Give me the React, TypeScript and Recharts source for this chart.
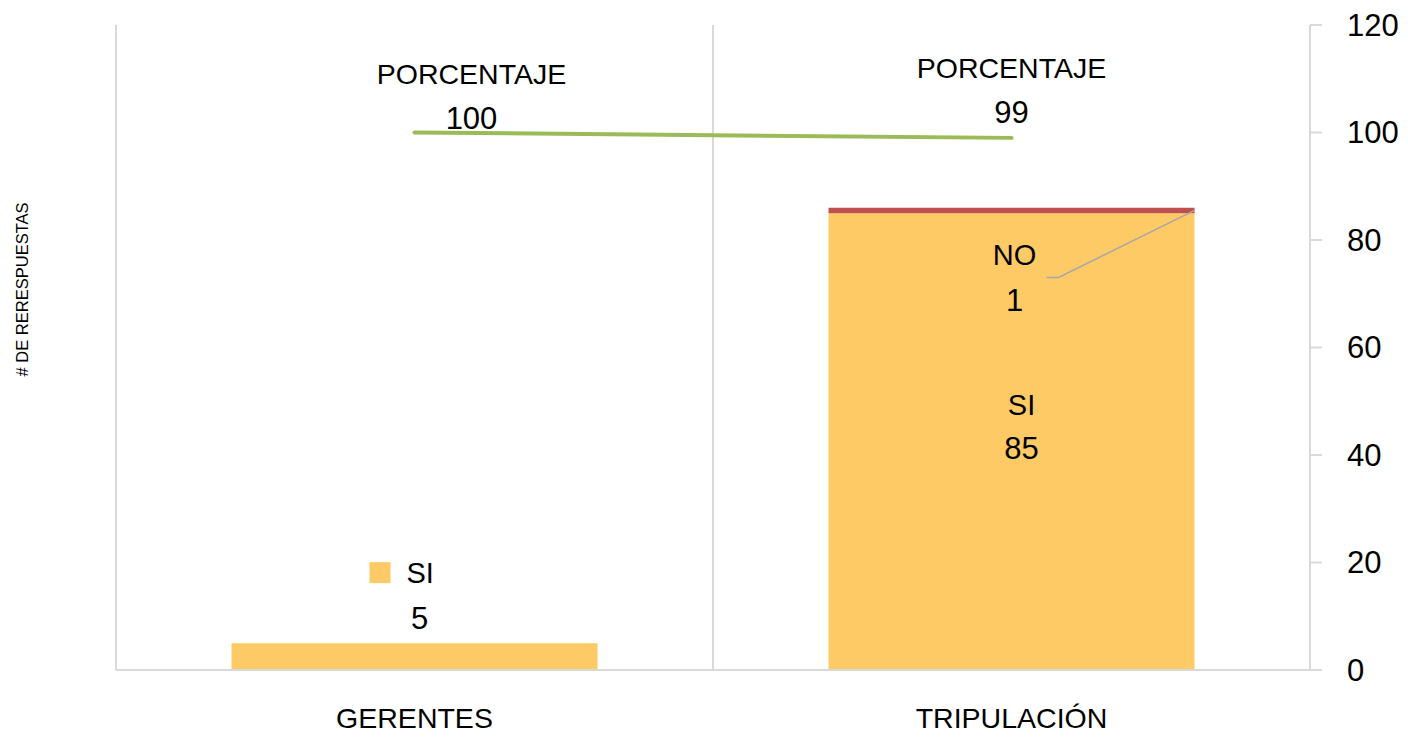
import React from 'react';
import { ComposedChart, Bar, Line, XAxis, YAxis, CartesianGrid, LabelList } from 'recharts';

const categories = ['GERENTES', 'TRIPULACIÓN'];
const siValues = [5, 85];
const noValues = [0, 1];
const pctValues = [100, 99];
const yTicks = [0, 20, 40, 60, 80, 100, 120];

const data = categories.map((c, i) => ({ cat: c, si: siValues[i], no: noValues[i], pct: pctValues[i] }));

const FONT = '"Liberation Sans", Arial, sans-serif';
const SI_COLOR = '#FECA66';
const NO_COLOR = '#C0504D';
const LINE_COLOR = '#9BBB59';
const GRID = '#D9D9D9';

const CatTick = (props: any) => {
  const { x, payload } = props;
  return (
    <text x={x} y={718} textAnchor="middle" dominantBaseline="central" fontFamily={FONT} fontSize={28.5} fill="#000">
      {payload.value}
    </text>
  );
};

const RightTick = (props: any) => {
  const { x, y, payload } = props;
  return (
    <text x={x} y={y} textAnchor="start" dominantBaseline="central" fontFamily={FONT} fontSize={31} fill="#000">
      {payload.value}
    </text>
  );
};

const SiLabel = (props: any) => {
  const { x, y, width, height, value, index } = props;
  const cx = x + width / 2;
  if (index === 0) {
    return (
      <g fontFamily={FONT} fill="#000">
        <rect x={cx - 45} y={y - 81} width={21} height={21} fill={SI_COLOR} />
        <text x={cx - 8} y={y - 70} dominantBaseline="central" fontSize={29}>SI</text>
        <text x={cx + 5} y={y - 25} textAnchor="middle" dominantBaseline="central" fontSize={31}>{value}</text>
      </g>
    );
  }
  const cy = y + height / 2;
  return (
    <g fontFamily={FONT} fill="#000">
      <text x={cx + 10} y={cy - 37} textAnchor="middle" dominantBaseline="central" fontSize={29}>SI</text>
      <text x={cx + 10} y={cy + 7} textAnchor="middle" dominantBaseline="central" fontSize={31}>{value}</text>
    </g>
  );
};

const NoLabel = (props: any) => {
  const { x, y, width, height, value } = props;
  if (!value) return null;
  const cx = x + width / 2;
  const right = x + width;
  const my = y + height / 2;
  return (
    <g fontFamily={FONT} fill="#000">
      <polyline points={`${cx + 35},${my + 67} ${cx + 47},${my + 67} ${right},${my}`} fill="none" stroke="#A6A6A6" strokeWidth={1.5} />
      <text x={cx + 3} y={my + 45} textAnchor="middle" dominantBaseline="central" fontSize={29}>NO</text>
      <text x={cx + 3} y={my + 90} textAnchor="middle" dominantBaseline="central" fontSize={31}>{value}</text>
    </g>
  );
};

const PctLabel = (props: any) => {
  const { x, y, value, index } = props;
  const dx = index === 0 ? 57 : 0;
  const dy = index === 0 ? 0 : -11;
  return (
    <g fontFamily={FONT} fill="#000">
      <text x={x + dx} y={y - 59 + dy} textAnchor="middle" dominantBaseline="central" fontSize={28.5}>PORCENTAJE</text>
      <text x={x + dx} y={y - 14 + dy} textAnchor="middle" dominantBaseline="central" fontSize={31}>{value}</text>
    </g>
  );
};

const AxisTitle = (props: any) => {
  const { viewBox } = props;
  const x = 22;
  const y = viewBox.y + viewBox.height * 0.41;
  return (
    <text x={x} y={y} transform={`rotate(-90, ${x}, ${y})`} textAnchor="middle" dominantBaseline="central" fontFamily={FONT} fontSize={16.5} fill="#000">
      # DE RERESPUESTAS
    </text>
  );
};

export default function App() {
  return (
    <div style={{ position: 'absolute', left: 0, top: 0, background: '#fff' }}>
      <ComposedChart
        width={1408}
        height={737}
        data={data}
        margin={{ top: 25, right: 0, bottom: 0, left: 0 }}
        barCategoryGap="19.35%"
      >
        <CartesianGrid
          horizontal={false}
          stroke={GRID}
          strokeWidth={2}
          verticalCoordinatesGenerator={({ offset }: any) => [offset.left, offset.left + offset.width / 2, offset.left + offset.width]}
        />
        <XAxis
          dataKey="cat"
          height={67}
          interval={0}
          tickLine={false}
          axisLine={{ stroke: GRID, strokeWidth: 2 }}
          tick={<CatTick />}
        />
        <YAxis
          yAxisId="left"
          orientation="left"
          width={116}
          domain={[0, 120]}
          ticks={yTicks}
          tick={false}
          tickLine={false}
          axisLine={false}
          label={<AxisTitle />}
        />
        <YAxis
          yAxisId="right"
          orientation="right"
          width={98}
          domain={[0, 120]}
          ticks={yTicks}
          tickSize={12}
          tickMargin={25}
          tickLine={{ stroke: GRID, strokeWidth: 2 }}
          axisLine={{ stroke: GRID, strokeWidth: 2 }}
          tick={<RightTick />}
        />
        <Bar dataKey="si" stackId="a" yAxisId="right" fill={SI_COLOR} isAnimationActive={false}>
          <LabelList dataKey="si" content={<SiLabel />} />
        </Bar>
        <Bar dataKey="no" stackId="a" yAxisId="right" fill={NO_COLOR} isAnimationActive={false}>
          <LabelList dataKey="no" content={<NoLabel />} />
        </Bar>
        <Line
          dataKey="pct"
          yAxisId="right"
          stroke={LINE_COLOR}
          strokeWidth={4}
          strokeLinecap="round"
          dot={false}
          activeDot={false}
          isAnimationActive={false}
        >
          <LabelList dataKey="pct" content={<PctLabel />} />
        </Line>
      </ComposedChart>
    </div>
  );
}
